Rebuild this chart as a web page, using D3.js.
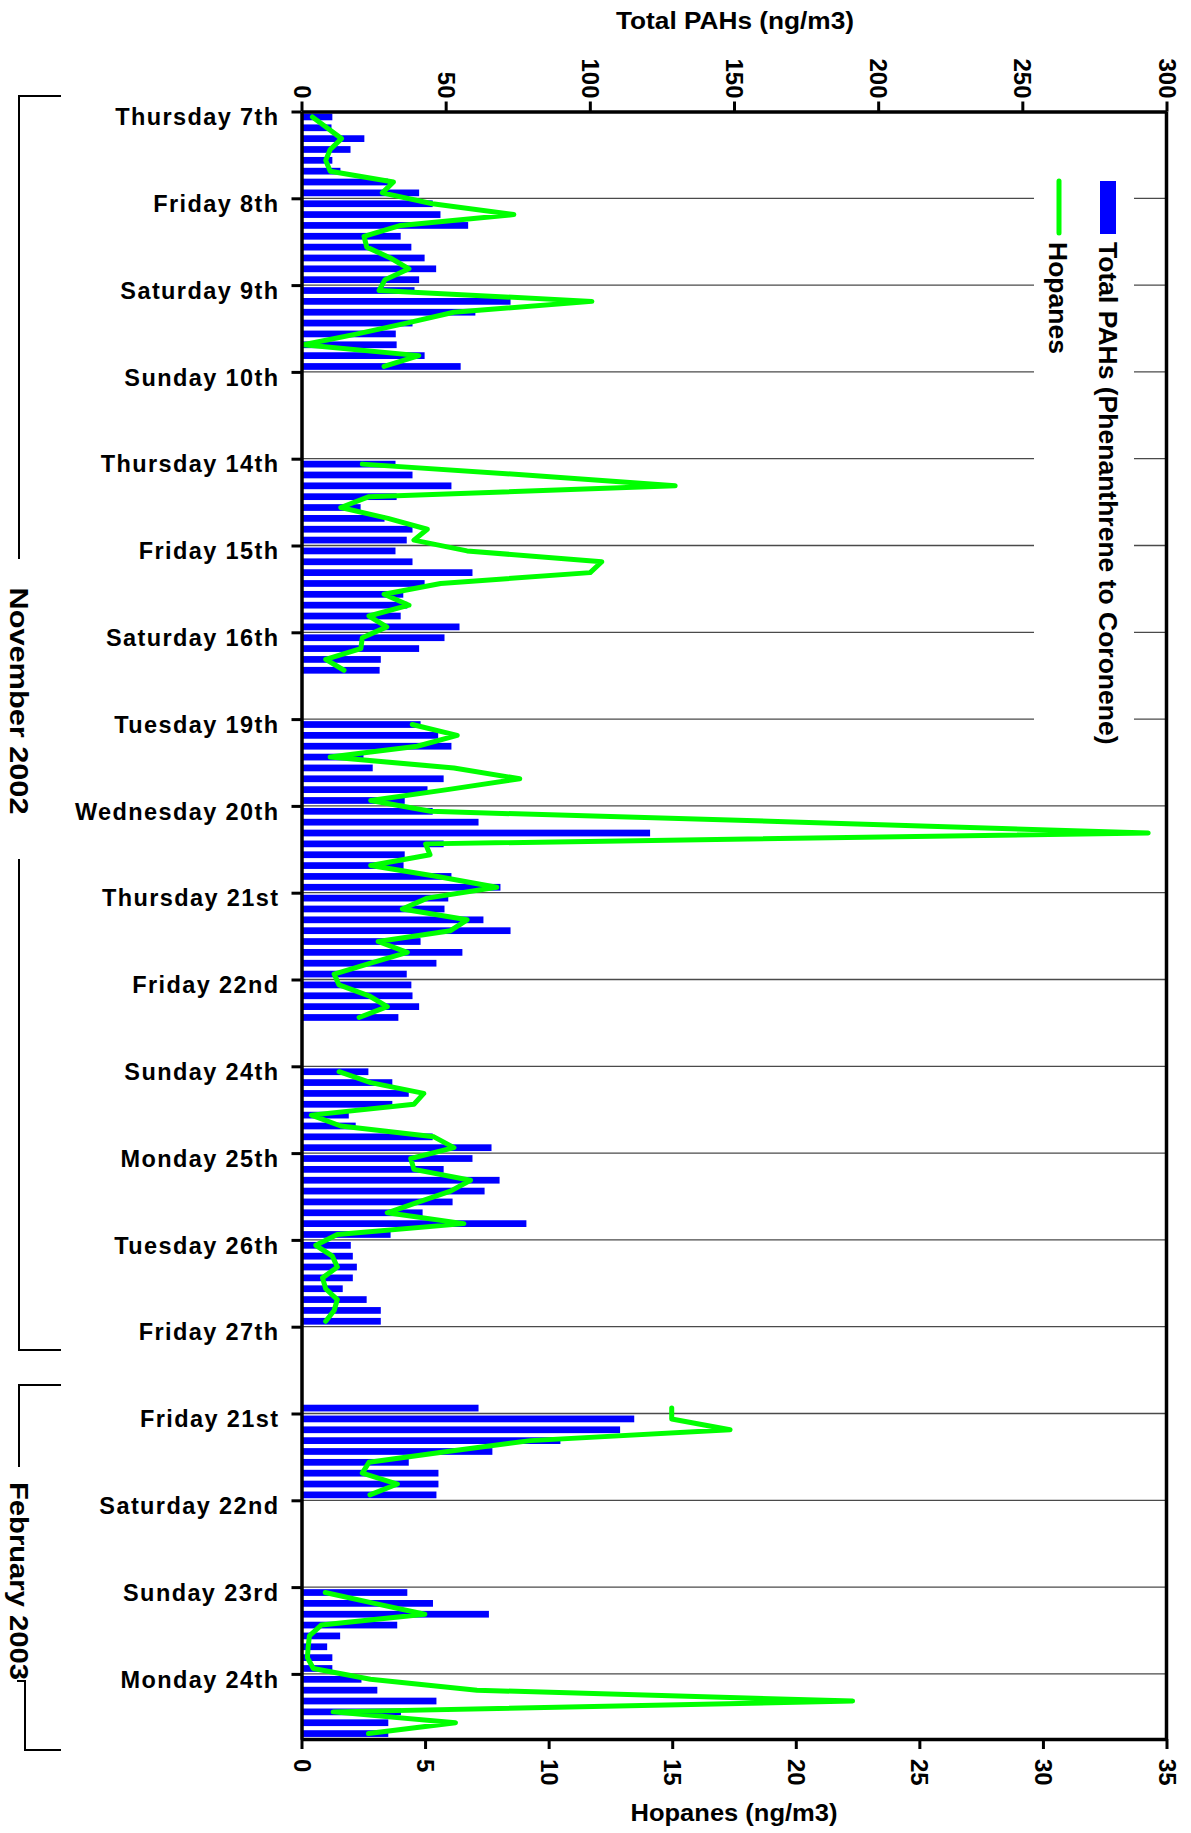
<!DOCTYPE html>
<html>
<head>
<meta charset="utf-8">
<script src="https://cdn.jsdelivr.net/npm/d3@7"></script>
<style>
  body { margin: 0; background: #fff; }
  svg { display: block; }
  text { font-family: "Liberation Sans", Arial, Helvetica, sans-serif; fill: #000; }
</style>
</head>
<body>
<svg id="chart" width="1191" height="1833"></svg>
<script>
// Day labels: one tick per day, each day split into eight 3-hour samples
const dayLabels = [
  "Thursday 7th", "Friday 8th", "Saturday 9th", "Sunday 10th",
  "Thursday 14th", "Friday 15th", "Saturday 16th", "Tuesday 19th",
  "Wednesday 20th", "Thursday 21st", "Friday 22nd", "Sunday 24th",
  "Monday 25th", "Tuesday 26th", "Friday 27th",
  "Friday 21st", "Saturday 22nd", "Sunday 23rd", "Monday 24th"
];
const slotsPerDay = 8;

const _ = null;
// Total PAHs (ng/m3), one value per 3-hour sample
const pahs = [
  10.7, 10.4, 21.8, 17.0, 10.7, 13.5, 30.0, 40.8,    // Thu 7
  45.5, 48.2, 57.8, 34.4, 38.1, 42.7, 46.7, 40.8,    // Fri 8
  39.2, 72.5, 60.3, 38.5, 32.7, 33.0, 42.7, 55.2,    // Sat 9
  _, _, _, _, _, _, _, _,                            // Sun 10
  32.6, 38.5, 52.0, 33.0, 20.5, 28.8, 38.5, 36.5,    // Thu 14
  32.6, 38.5, 59.3, 42.7, 35.3, 36.7, 34.4, 54.8,    // Fri 15
  49.6, 40.8, 27.5, 27.1, _, _, _, _,                // Sat 16
  41.3, 47.4, 52.0, 21.5, 24.7, 49.3, 43.7, 35.8,    // Tue 19
  45.5, 61.4, 120.9, 49.3, 35.8, 35.4, 52.0, 69.0,   // Wed 20
  50.9, 49.6, 63.1, 72.5, 41.3, 55.8, 46.8, 36.5,    // Thu 21
  38.1, 38.5, 40.8, 33.6, _, _, _, _,                // Fri 22
  23.2, 31.5, 37.2, 31.5, 16.4, 18.8, 45.5, 65.9,    // Sun 24
  59.3, 49.3, 68.7, 63.5, 52.4, 42.0, 78.0, 30.9,    // Mon 25
  17.1, 17.8, 19.2, 17.8, 14.3, 22.6, 27.5, 27.5,    // Tue 26
  _, _, _, _, _, _, _, 61.4,                         // Fri 27
  115.4, 110.5, 89.8, 66.2, 37.2, 47.5, 47.5, 46.8,  // Fri 21 (Feb)
  _, _, _, _, _, _, _, _,                            // Sat 22
  36.7, 45.6, 65.0, 33.2, 13.4, 8.9, 10.7, 10.7,     // Sun 23
  20.8, 26.3, 46.8, 34.5, 30.1, 30.1                 // Mon 24
];

// Hopanes (ng/m3), same samples
const hopanes = [
  0.44, 1.03, 1.62, 1.16, 0.98, 1.16, 3.72, 3.27,
  5.3, 8.59, 4.01, 2.53, 2.64, 3.6, 4.35, 3.38,
  3.14, 11.75, 6.16, 4.25, 2.26, 0.08, 4.75, 3.34,
  _, _, _, _, _, _, _, _,
  2.46, 9.07, 15.12, 2.73, 1.59, 3.5, 5.09, 4.55,
  6.70, 12.15, 11.68, 5.63, 3.34, 4.35, 2.73, 3.45,
  2.46, 2.4, 0.98, 1.72, _, _, _, _,
  4.48, 6.30, 4.68, 1.16, 6.17, 8.83, 5.9, 2.80,
  5.22, 20.2, 34.26, 5.02, 5.2, 2.8, 5.5, 7.9,
  5.09, 4.08, 6.7, 6.03, 3.10, 4.28, 2.8, 1.32,
  1.52, 2.73, 3.47, 2.33, _, _, _, _,
  1.52, 2.8, 4.95, 4.55, 0.40, 1.59, 5.36, 6.17,
  4.42, 4.55, 6.84, 6.03, 4.75, 3.47, 6.57, 1.45,
  0.58, 1.25, 1.45, 0.85, 0.98, 1.45, 1.32, 0.98,
  _, _, _, _, _, _, _, 14.98,
  14.98, 17.34, 9.26, 5.9, 2.73, 2.46, 3.88, 2.77,
  _, _, _, _, _, _, _, _,
  0.96, 2.95, 4.99, 0.80, 0.32, 0.27, 0.24, 0.48,
  2.79, 7.10, 22.3, 1.28, 6.23, 2.71
];

const pahTicks = [0, 50, 100, 150, 200, 250, 300];
const hopaneTicks = [0, 5, 10, 15, 20, 25, 30, 35];
const seriesNames = ["Total PAHs (Phenanthrene to Coronene)", "Hopanes"];
const axisTitles = { top: "Total PAHs (ng/m3)", bottom: "Hopanes (ng/m3)" };
const monthNames = ["November  2002", "February 2003"];

// ---- layout ----
const M = { left: 301.5, right: 1166.5, top: 111.5, bottom: 1739 };
const nSlots = pahs.length;

const svg = d3.select("#chart");

const xP = d3.scaleLinear().domain([0, 300]).range([M.left, M.right]);
const xH = d3.scaleLinear().domain([0, 35]).range([M.left, M.right]);
const yPos = d3.scaleLinear().domain([0, nSlots]).range([M.top, M.bottom]);
const yBand = d3.scaleBand().domain(d3.range(nSlots)).range([M.top, M.bottom])
  .paddingInner(0.38).paddingOuter(0.19);

const dayTicks = d3.range(dayLabels.length).map(d => d * slotsPerDay);

// gridlines at each day boundary
svg.append("g").selectAll("line")
  .data(dayTicks.slice(1))
  .join("line")
  .attr("x1", M.left).attr("x2", M.right)
  .attr("y1", d => yPos(d)).attr("y2", d => yPos(d))
  .attr("stroke", "#4a4a4a").attr("stroke-width", 1.3);

// legend background (blanks the gridlines behind it)
svg.append("rect")
  .attr("x", 1034).attr("y", M.top + 2)
  .attr("width", 100).attr("height", 650)
  .attr("fill", "#fff");

// PAH bars
svg.append("g").selectAll("rect")
  .data(pahs.map((v, i) => ({ v, i })).filter(d => d.v != null))
  .join("rect")
  .attr("x", M.left)
  .attr("y", d => yBand(d.i))
  .attr("width", d => xP(d.v) - M.left)
  .attr("height", yBand.bandwidth())
  .attr("fill", "#0000ff");

// hopanes line (broken where no samples exist)
const line = d3.line()
  .defined(d => d.v != null)
  .x(d => xH(d.v))
  .y(d => yPos(d.i + 0.5));

svg.append("path")
  .datum(hopanes.map((v, i) => ({ v, i })))
  .attr("d", line)
  .attr("fill", "none")
  .attr("stroke", "#00ff00")
  .attr("stroke-width", 5)
  .attr("stroke-linejoin", "round")
  .attr("stroke-linecap", "round");

// ---- axes ----
function styleAxis(g) {
  g.select(".domain").attr("stroke", "#000").attr("stroke-width", 3.5);
  g.selectAll(".tick line").attr("stroke", "#000").attr("stroke-width", 3);
}

const topAxis = svg.append("g")
  .attr("transform", `translate(0,${M.top})`)
  .call(d3.axisTop(xP).tickValues(pahTicks).tickSize(10).tickSizeOuter(0).tickFormat(d3.format("d")));
styleAxis(topAxis);
topAxis.selectAll(".tick text")
  .attr("x", 0).attr("y", 0).attr("dy", "0.35em")
  .attr("transform", "translate(0,-13) rotate(90)")
  .style("text-anchor", "end")
  .style("font-size", "24px").style("font-weight", "bold")
  .style("font-family", "'Liberation Sans', Arial, sans-serif");

const bottomAxis = svg.append("g")
  .attr("transform", `translate(0,${M.bottom})`)
  .call(d3.axisBottom(xH).tickValues(hopaneTicks).tickSize(10).tickSizeOuter(0).tickFormat(d3.format("d")));
styleAxis(bottomAxis);
bottomAxis.selectAll(".tick text")
  .attr("x", 0).attr("y", 0).attr("dy", "0.35em")
  .attr("transform", "translate(0,20) rotate(90)")
  .style("text-anchor", "start")
  .style("font-size", "24px").style("font-weight", "bold")
  .style("font-family", "'Liberation Sans', Arial, sans-serif");

const leftAxis = svg.append("g")
  .attr("transform", `translate(${M.left},0)`)
  .call(d3.axisLeft(yPos).tickValues(dayTicks).tickSize(10).tickSizeOuter(0)
    .tickFormat(d => dayLabels[d / slotsPerDay]));
styleAxis(leftAxis);
leftAxis.selectAll(".tick text")
  .attr("x", -22).attr("dy", "0.35em").attr("y", 5)
  .style("font-size", "23.5px").style("font-weight", "bold")
  .style("letter-spacing", "1.4px")
  .style("font-family", "'Liberation Sans', Arial, sans-serif");

// right frame edge
svg.append("line")
  .attr("x1", M.right).attr("x2", M.right)
  .attr("y1", M.top).attr("y2", M.bottom)
  .attr("stroke", "#000").attr("stroke-width", 3.5);

// ---- axis titles ----
svg.append("text")
  .attr("x", 735).attr("y", 29)
  .attr("text-anchor", "middle")
  .attr("textLength", 238).attr("lengthAdjust", "spacingAndGlyphs")
  .style("font-size", "24px").style("font-weight", "bold")
  .text(axisTitles.top);

svg.append("text")
  .attr("x", 734).attr("y", 1821)
  .attr("text-anchor", "middle")
  .attr("textLength", 207).attr("lengthAdjust", "spacingAndGlyphs")
  .style("font-size", "24px").style("font-weight", "bold")
  .text(axisTitles.bottom);

// ---- legend (rotated) ----
const lg = svg.append("g");
lg.append("rect")
  .attr("x", 1100).attr("y", 181).attr("width", 16).attr("height", 53)
  .attr("fill", "#0000ff");
lg.append("text")
  .attr("transform", "translate(1108,242) rotate(90)")
  .attr("dy", "0.35em")
  .style("font-size", "26.5px").style("font-weight", "bold")
  .text(seriesNames[0]);
lg.append("line")
  .attr("x1", 1059).attr("x2", 1059).attr("y1", 181).attr("y2", 233)
  .attr("stroke", "#00ff00").attr("stroke-width", 5).attr("stroke-linecap", "round");
lg.append("text")
  .attr("transform", "translate(1058,242) rotate(90)")
  .attr("dy", "0.35em")
  .style("font-size", "26.5px").style("font-weight", "bold")
  .text(seriesNames[1]);

// ---- month brackets ----
const br = svg.append("g").attr("fill", "none").attr("stroke", "#000").attr("stroke-width", 2);
br.append("path").attr("d", "M61,96 H19 V559");
br.append("path").attr("d", "M19,859 V1350 H61");
br.append("path").attr("d", "M61,1385 H19 V1467");
br.append("path").attr("d", "M17,1681 H25 V1750 H61");

svg.append("text")
  .attr("transform", "translate(19,701) rotate(90)")
  .attr("text-anchor", "middle").attr("dy", "0.35em")
  .attr("textLength", 227).attr("lengthAdjust", "spacingAndGlyphs")
  .style("font-size", "25px").style("font-weight", "bold")
  .text(monthNames[0]);
svg.append("text")
  .attr("transform", "translate(19,1581) rotate(90)")
  .attr("text-anchor", "middle").attr("dy", "0.35em")
  .attr("textLength", 198).attr("lengthAdjust", "spacingAndGlyphs")
  .style("font-size", "25px").style("font-weight", "bold")
  .text(monthNames[1]);
</script>
</body>
</html>
